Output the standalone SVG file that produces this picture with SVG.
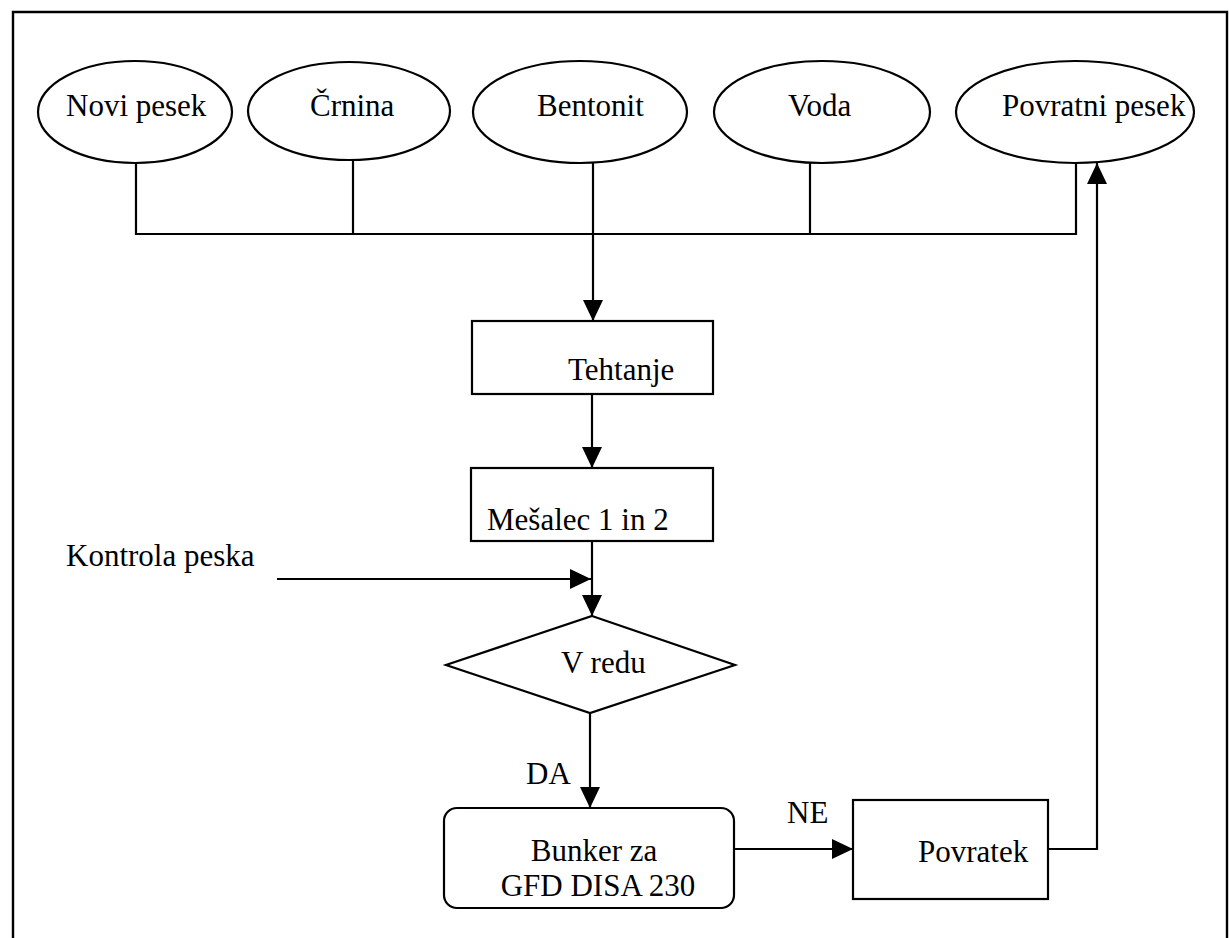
<svg xmlns="http://www.w3.org/2000/svg" width="1229" height="938" viewBox="0 0 1229 938">
  <style>
    .shape { fill: #fff; stroke: #000; stroke-width: 2.2; }
    .line { fill: none; stroke: #000; stroke-width: 2.2; }
    .frame { fill: none; stroke: #000; stroke-width: 2.4; }
    text { font-family: "Liberation Serif", "Times New Roman", serif; font-size: 31px; fill: #000; }
  </style>
  <defs>
    <marker id="arrow" markerUnits="userSpaceOnUse" markerWidth="22" markerHeight="22" refX="21" refY="11" orient="auto">
      <path d="M0,1 L21,11 L0,21 z" fill="#000"/>
    </marker>
  </defs>
  <rect width="1229" height="938" fill="#fff"/>

  <!-- page frame (open at the bottom) -->
  <path class="frame" d="M13,938 L13,12 L1227,12 L1227,938"/>

  <!-- connectors -->
  <g id="connectors">
    <path class="line" d="M136,163 L136,234 L1076,234 L1076,163"/>
    <line class="line" x1="353" y1="160" x2="353" y2="234"/>
    <line class="line" x1="810" y1="162" x2="810" y2="234"/>
    <line class="line" x1="593" y1="163" x2="593" y2="321" marker-end="url(#arrow)"/>
    <line class="line" x1="592" y1="394" x2="592" y2="468" marker-end="url(#arrow)"/>
    <line class="line" x1="592" y1="541" x2="592" y2="616" marker-end="url(#arrow)"/>
    <line class="line" x1="277" y1="579" x2="591" y2="579" marker-end="url(#arrow)"/>
    <line class="line" x1="590" y1="713" x2="590" y2="808" marker-end="url(#arrow)"/>
    <line class="line" x1="734" y1="849" x2="853" y2="849" marker-end="url(#arrow)"/>
    <path class="line" d="M1048,849 L1097,849 L1097,163" marker-end="url(#arrow)"/>
  </g>

  <!-- inputs -->
  <g id="novi-pesek">
    <ellipse class="shape" cx="135" cy="112" rx="97" ry="51"/>
    <text x="66" y="116">Novi pesek</text>
  </g>
  <g id="crnina">
    <ellipse class="shape" cx="349" cy="111" rx="101" ry="49"/>
    <text x="310" y="116">Črnina</text>
  </g>
  <g id="bentonit">
    <ellipse class="shape" cx="580" cy="112" rx="107" ry="51"/>
    <text x="537" y="116">Bentonit</text>
  </g>
  <g id="voda">
    <ellipse class="shape" cx="822" cy="112" rx="108" ry="51"/>
    <text x="788" y="116">Voda</text>
  </g>
  <g id="povratni-pesek">
    <ellipse class="shape" cx="1075" cy="112" rx="119" ry="51"/>
    <text x="1002" y="116">Povratni pesek</text>
  </g>

  <!-- process steps -->
  <g id="tehtanje">
    <rect class="shape" x="472" y="321" width="241" height="73"/>
    <text x="568" y="380">Tehtanje</text>
  </g>
  <g id="mesalec">
    <rect class="shape" x="471" y="468" width="242" height="73"/>
    <text x="487" y="530">Mešalec 1 in 2</text>
  </g>
  <g id="kontrola-peska">
    <text x="66" y="566">Kontrola peska</text>
  </g>
  <g id="v-redu">
    <polygon class="shape" points="592,616 735,665 590,713 446,665"/>
    <text x="561" y="673">V redu</text>
  </g>
  <g id="bunker">
    <rect class="shape" x="444" y="808" width="290" height="100" rx="13" ry="13"/>
    <text x="594" y="861" text-anchor="middle">Bunker za</text>
    <text x="598" y="896" text-anchor="middle">GFD DISA 230</text>
  </g>
  <g id="povratek">
    <rect class="shape" x="853" y="800" width="195" height="99"/>
    <text x="918" y="862">Povratek</text>
  </g>

  <!-- branch labels -->
  <g id="labels">
    <text x="526" y="784">DA</text>
    <text x="787" y="823">NE</text>
  </g>
</svg>
